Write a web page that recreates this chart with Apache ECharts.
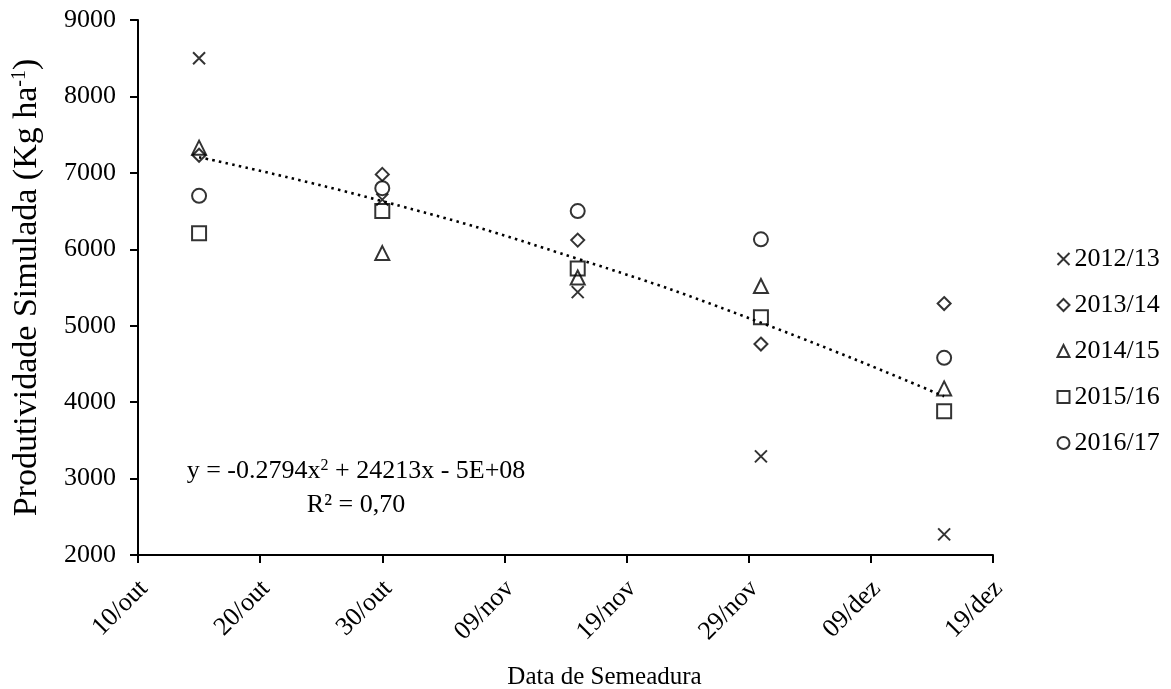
<!DOCTYPE html>
<html>
<head>
<meta charset="utf-8">
<script src="https://cdn.jsdelivr.net/npm/echarts@6/dist/echarts.min.js"></script>
<style>
html,body{margin:0;padding:0;background:#fff;}
#main{width:1171px;height:689px;}
</style>
</head>
<body>
<div id="main"></div>
<script>
// sowing dates, as days after 10/out
var sowingDays = [5, 20, 36, 51, 66];
var tickLabels = ['10/out', '20/out', '30/out', '09/nov', '19/nov', '29/nov', '09/dez', '19/dez'];
var seasons = ['2012/13', '2013/14', '2014/15', '2015/16', '2016/17'];

var y2012 = [8500, 6650, 5440, 3290, 2270];
var y2013 = [7230, 6980, 6120, 4760, 5290];
var y2014 = [7330, 5950, 5630, 5520, 4180];
var y2015 = [6210, 6500, 5750, 5110, 3880];
var y2016 = [6700, 6800, 6500, 6130, 4580];

// dotted trend line at each sowing date
var trendValues = [7205, 6630, 5875, 5040, 4075];

var font = '"Liberation Serif", "Times New Roman", serif';
var crossPath = 'path://M0,0L10,10M10,0L0,10';

function pairs(ys){
    var arr = [];
    for(var i = 0; i < sowingDays.length; i++){
        arr.push([sowingDays[i], ys[i]]);
    }
    return arr;
}

function scatter(name, ys, symbol, size){
    return {
        name: name,
        type: 'scatter',
        data: pairs(ys),
        symbol: symbol,
        symbolSize: size,
        itemStyle: {
            color: 'none',
            borderColor: '#000',
            borderWidth: 2
        },
        emphasis: {disabled: true},
        z: 3
    };
}

var myChart = echarts.init(document.getElementById('main'));
var option = {
    backgroundColor: '#fff',
    animation: false,
    grid: {left: 138, right: 178, top: 20, bottom: 134, outerBoundsMode: 'none'},
    legend: {
        orient: 'vertical',
        left: 1050,
        top: 241,
        itemWidth: 12,
        itemHeight: 12,
        itemGap: 20,
        data: seasons,
        textStyle: {fontFamily: font, fontSize: 26, color: '#000', lineHeight: 26}
    },
    xAxis: {
        type: 'value',
        min: 0,
        max: 70,
        interval: 10,
        name: 'Data de Semeadura',
        nameLocation: 'middle',
        nameGap: 110,
        nameTextStyle: {fontFamily: font, fontSize: 25, color: '#000', padding: [0, 0, 0, 78]},
        axisLine: {lineStyle: {color: '#000', width: 2}},
        axisTick: {show: true, length: 8, lineStyle: {color: '#000', width: 2}},
        splitLine: {show: false},
        axisLabel: {
            rotate: 45,
            margin: 17,
            verticalAlign: 'top',
            padding: [0, 5, 0, 0],
            fontFamily: font,
            fontSize: 26,
            color: '#000',
            formatter: function(v){ return tickLabels[Math.round(v / 10)]; }
        }
    },
    yAxis: {
        type: 'value',
        min: 2000,
        max: 9000,
        interval: 1000,
        name: 'Produtividade Simulada (Kg ha{sup|-1})',
        nameLocation: 'middle',
        nameGap: 94,
        nameTextStyle: {
            fontFamily: font, fontSize: 34, color: '#000', lineHeight: 34,
            rich: {sup: {fontFamily: font, fontSize: 20, color: '#000', verticalAlign: 'top', lineHeight: 22}}
        },
        axisLine: {show: true, lineStyle: {color: '#000', width: 2}},
        axisTick: {show: true, length: 8, lineStyle: {color: '#000', width: 2}},
        splitLine: {show: false},
        axisLabel: {
            margin: 22, fontFamily: font, fontSize: 26, color: '#000',
            formatter: function(v){ return String(v); }
        }
    },
    graphic: [
        {
            type: 'text', x: 356, y: 471,
            style: {
                text: 'y = -0.2794x{sup|2} + 24213x - 5E+08',
                font: '26px ' + font, fill: '#000',
                align: 'center', verticalAlign: 'middle', lineHeight: 26,
                rich: {sup: {fontFamily: font, fontSize: 16, fill: '#000', verticalAlign: 'top', lineHeight: 20}}
            }
        },
        {
            type: 'text', x: 356, y: 505,
            style: {
                text: 'R² = 0,70', font: '26px ' + font, fill: '#000',
                align: 'center', verticalAlign: 'middle'
            }
        }
    ],
    series: [
        scatter(seasons[0], y2012, crossPath, 12),
        scatter(seasons[1], y2013, 'diamond', 13),
        scatter(seasons[2], y2014, 'triangle', 14),
        scatter(seasons[3], y2015, 'rect', 14),
        scatter(seasons[4], y2016, 'circle', 14),
        {
            name: 'trend',
            type: 'line',
            data: pairs(trendValues),
            smooth: true,
            symbol: 'none',
            lineStyle: {color: '#000', width: 2.6, type: [2.5, 4.3]},
            emphasis: {disabled: true},
            z: 2
        }
    ]
};
myChart.setOption(option);
</script>
</body>
</html>
